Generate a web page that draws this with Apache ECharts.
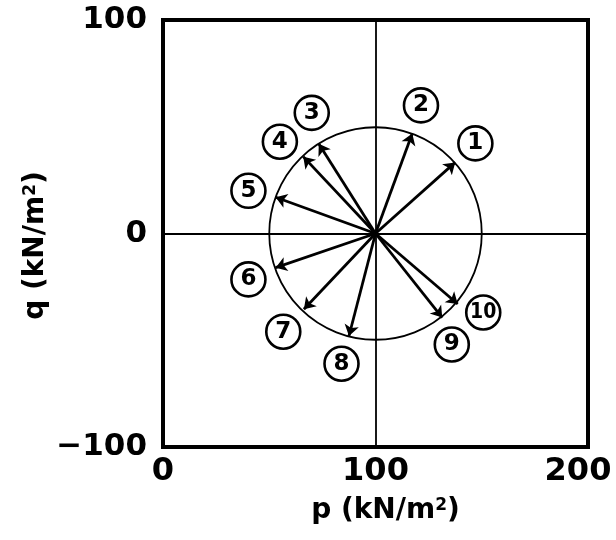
<!DOCTYPE html>
<html><head><meta charset="utf-8">
<script src="https://cdn.jsdelivr.net/npm/echarts@6/dist/echarts.min.js"></script>
<style>html,body{margin:0;padding:0;background:#fff;overflow:hidden}#c{width:616px;height:540px}</style>
</head><body><div id="c"></div>
<script>
// Stress path identifiers
const pathIds = ['1','2','3','4','5','6','7','8','9','10'];
// Common start point of all stress paths (p, q) in kN/m2
const startP = 100;
const startQ = 0;
// End points of stress paths
const endP = [137.5, 117.3, 73.3, 66.0, 53.0, 53.0, 66.3, 87.5, 131.4, 138.7];
const endQ = [33.3, 46.8, 42.0, 36.0, 17.0, -16.0, -35.5, -48.0, -39.4, -33.0];
// Where the circled path numbers sit
const labelP = [147.0, 121.4, 70.0, 55.0, 40.2, 40.2, 56.6, 84.0, 135.9, 150.7];
const labelQ = [42.2, 60.0, 56.5, 43.0, 20.0, -21.5, -46.0, -61.0, -52.0, -37.0];
// Reference circle (centre p, centre q, radius)
const circleP = 100, circleQ = 0, circleR = 50;
// Axis ticks
const xTicks = [0, 100, 200];
const yTicks = [-100, 0, 100];

const FONT = 'DejaVu Sans';
const chart = echarts.init(document.getElementById('c'), null, {renderer: 'canvas'});

const arrowData = endP.map((p, i) => ({coords: [[startP, startQ], [p, endQ[i]]]}));
const labelData = labelP.map((p, i) => ({value: [p, labelQ[i]], name: pathIds[i]}));

chart.setOption({
  animation: false,
  backgroundColor: '#fff',
  grid: {left: 163, right: 28, top: 20, bottom: 93, containLabel: false, outerBoundsMode: 'none',
    show: true, borderColor: '#000', borderWidth: 4, backgroundColor: 'transparent'},
  xAxis: {
    type: 'value', min: xTicks[0], max: xTicks[xTicks.length - 1], interval: xTicks[1] - xTicks[0],
    axisLine: {show: false}, axisTick: {show: false},
    splitLine: {show: true, lineStyle: {color: '#000', width: 1.8}},
    axisLabel: {
      margin: 9, color: '#000', fontFamily: FONT, fontWeight: 'bold', fontSize: 32,
      formatter: v => v === xTicks[xTicks.length - 1] ? '{r|' + v + '}' : String(v),
      rich: {r: {fontFamily: FONT, fontWeight: 'bold', fontSize: 32, color: '#000', padding: [0, 20, 0, 0]}}
    },
    name: 'p (kN/m{s|2})', nameLocation: 'middle', nameGap: 50, nameMoveOverlap: false,
    nameTextStyle: {
      color: '#000', fontFamily: FONT, fontWeight: 'bold', fontSize: 28, padding: [0, 0, 0, 20],
      rich: {s: {color: '#000', fontFamily: FONT, fontWeight: 'bold', fontSize: 17, verticalAlign: 'top', padding: [0, 0, 9, 0]}}
    }
  },
  yAxis: {
    type: 'value', min: yTicks[0], max: yTicks[yTicks.length - 1], interval: yTicks[1] - yTicks[0],
    axisLine: {show: false}, axisTick: {show: false},
    splitLine: {show: true, lineStyle: {color: '#000', width: 1.8}},
    axisLabel: {margin: 16, color: '#000', fontFamily: FONT, fontWeight: 'bold', fontSize: 31, padding: [5, 0, 0, 0],
      formatter: v => v < 0 ? '\u2212' + Math.abs(v) : String(v)},
    name: 'q (kN/m{s|2})', nameLocation: 'middle', nameGap: 113, nameRotate: 90, nameMoveOverlap: false,
    nameTextStyle: {
      color: '#000', fontFamily: FONT, fontWeight: 'bold', fontSize: 28, padding: [0, 24, 0, 0],
      rich: {s: {color: '#000', fontFamily: FONT, fontWeight: 'bold', fontSize: 17, verticalAlign: 'top', padding: [0, 0, 9, 0]}}
    }
  },
  series: [
    {
      type: 'custom', coordinateSystem: 'cartesian2d', silent: true, z: 2,
      data: [[circleP, circleQ, circleR]],
      renderItem: (params, api) => {
        const c = api.coord([api.value(0), api.value(1)]);
        const r = api.size([api.value(2), 0])[0];
        return {type: 'circle', shape: {cx: c[0], cy: c[1], r: r}, style: {fill: 'none', stroke: '#000', lineWidth: 1.8}};
      }
    },
    {
      type: 'lines', coordinateSystem: 'cartesian2d', z: 3,
      symbol: ['none', 'arrow'], symbolSize: 11,
      lineStyle: {color: '#000', width: 2.8, opacity: 1, curveness: 0},
      data: arrowData
    },
    {
      type: 'scatter', z: 4, symbol: 'circle', symbolSize: 34,
      itemStyle: {color: '#fff', borderColor: '#000', borderWidth: 2.6, opacity: 1},
      label: {
        show: true, position: 'inside', color: '#000', fontFamily: FONT, fontWeight: 'bold', fontSize: 23,
        formatter: p => p.name.length > 1 ? '{n|' + p.name + '}' : p.name,
        rich: {n: {color: '#000', fontFamily: 'DejaVu Sans Condensed', fontWeight: 'bold', fontSize: 21}}
      },
      data: labelData
    }
  ]
});
</script>
</body></html>
